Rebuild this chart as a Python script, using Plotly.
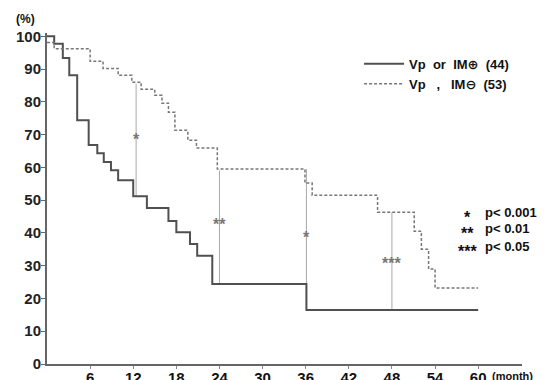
import plotly.graph_objects as go

# ---- data ----
months_pos = [0, 1.0, 2.2, 3.1, 4.2, 5.8, 7.0, 7.9, 8.9, 9.9, 12.0, 13.9, 16.9, 18.0,
              19.9, 20.9, 23.0, 36.1, 60]
surv_pos = [100, 97.7, 93.4, 88.1, 74.4, 66.8, 64.3, 61.6, 59.1, 56.1, 51.2, 47.6, 43.6,
            40.2, 36.6, 33.0, 24.4, 16.5, 16.5]

months_neg = [0, 1.0, 6.0, 7.8, 9.9, 11.8, 13.1, 15.0, 16.0, 16.9, 17.8, 19.6, 20.8,
              23.7, 35.9, 36.9, 46.0, 51.1, 52.1, 53.1, 54.0, 60]
surv_neg = [98.1, 96.2, 92.4, 90.2, 88.1, 86.0, 83.8, 82.0, 79.6, 76.8, 71.3, 68.3, 65.9,
            59.5, 55.2, 51.5, 46.3, 40.5, 35.0, 29.0, 23.2, 23.2]

name_pos = "Vp\u00a0\u00a0or\u00a0\u00a0IM\u2295\u00a0\u00a0(44)"
name_neg = "Vp\u00a0\u00a0\u00a0,\u00a0\u00a0\u00a0IM\u2296\u00a0\u00a0(53)"

sig_months = [12.4, 24.0, 36.1, 48.0]
sig_top = [85.5, 59.0, 59.5, 46.3]
sig_bottom = [51.2, 24.4, 16.5, 16.8]
sig_marks = ["*", "**", "*", "***"]
sig_mark_y = [69.0, 43.3, 39.3, 31.4]

p_stars = ["*", "**", "***"]
p_texts = ["p< 0.001", "p< 0.01", "p< 0.05"]
p_y = [46.3, 41.2, 36.0]

x_ticks = [6, 12, 18, 24, 30, 36, 42, 48, 54, 60]
y_ticks = [0, 10, 20, 30, 40, 50, 60, 70, 80, 90, 100]

FONT = "Liberation Sans, Arial, DejaVu Sans, sans-serif"

fig = go.Figure()

# significance vertical lines
vx, vy = [], []
for m, t, b in zip(sig_months, sig_top, sig_bottom):
    vx += [m, m, None]
    vy += [t, b, None]
fig.add_trace(go.Scatter(x=vx, y=vy, mode="lines", line=dict(color="#a8a8a8", width=1),
                         showlegend=False, hoverinfo="skip"))

fig.add_trace(go.Scatter(x=months_pos, y=surv_pos, mode="lines", line_shape="hv",
                         line=dict(color="#505050", width=2), name=name_pos))
fig.add_trace(go.Scatter(x=months_neg, y=surv_neg, mode="lines", line_shape="hv",
                         line=dict(color="#777777", width=1.5, dash="3px,2px"), name=name_neg))

for m, yv, s in zip(sig_months, sig_mark_y, sig_marks):
    fig.add_annotation(x=m, y=yv, text="<b>" + s + "</b>", showarrow=False,
                       font=dict(family=FONT, size=16, color="#777777"), yshift=-2)

for s, t, yv in zip(p_stars, p_texts, p_y):
    fig.add_annotation(x=58.5, y=yv, text="<b>" + s + "</b>", showarrow=False, xanchor="center",
                       font=dict(family=FONT, size=16, color="#111111"), yshift=-5)
    fig.add_annotation(x=60.7, y=yv, text="<b>" + t + "</b>", showarrow=False, xanchor="left",
                       font=dict(family=FONT, size=13, color="#111111"))

fig.add_annotation(xref="paper", yref="paper", x=-0.046, y=1.042, text="<b>(%)</b>", showarrow=False,
                   xanchor="center", yanchor="middle", font=dict(family=FONT, size=12, color="#111111"))
fig.add_annotation(x=60, y=0, text="<b>(month)</b>", showarrow=False, xanchor="left", yanchor="top",
                   xshift=12, yshift=-4, font=dict(family=FONT, size=11, color="#111111"))

fig.update_layout(
    width=551, height=380,
    margin=dict(l=39, r=37, t=25, b=24, autoexpand=False),
    paper_bgcolor="white", plot_bgcolor="white",
    font=dict(family=FONT, color="#111111"),
    legend=dict(x=0.657, y=0.952, xanchor="left", yanchor="top", bgcolor="rgba(0,0,0,0)",
                font=dict(family=FONT, size=13, color="#111111", weight="bold"), tracegroupgap=0,
                itemwidth=40),
    xaxis=dict(range=[0, 66.1], tickvals=x_ticks, showgrid=False, zeroline=False, automargin=False,
               showline=True, linecolor="#666666", linewidth=2, ticks="outside", ticklen=3,
               tickcolor="#888888", ticklabelstandoff=-4,
               tickfont=dict(family=FONT, size=15, color="#111111", weight="bold")),
    yaxis=dict(range=[0, 101], tickvals=y_ticks, showgrid=False, zeroline=False, automargin=False,
               showline=True, linecolor="#666666", linewidth=2, ticks="outside", ticklen=4,
               tickcolor="#666666", ticklabelstandoff=-3,
               tickfont=dict(family=FONT, size=15, color="#222222", weight="bold")),
)

fig.write_html("out.html")
